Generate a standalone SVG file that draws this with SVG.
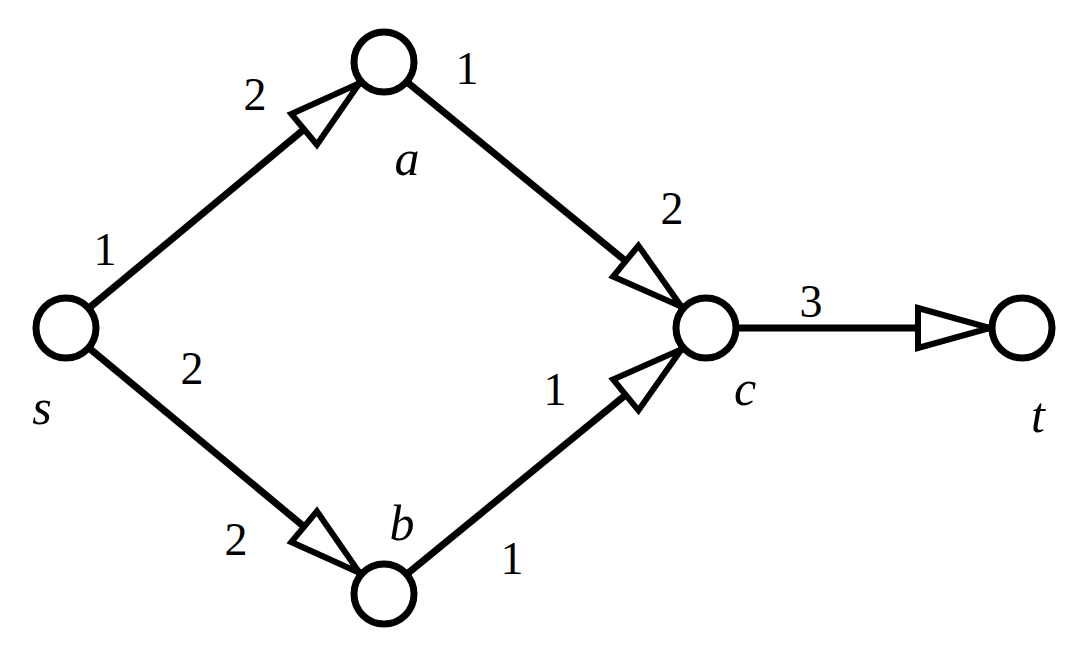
<svg xmlns="http://www.w3.org/2000/svg" width="1092" height="656" viewBox="0 0 1092 656">
<style>
.n{fill:#fff;stroke:#000;stroke-width:7}
.e{stroke:#000;stroke-width:7;fill:none}
.num{font-family:"Liberation Serif",serif;font-size:46px;text-anchor:middle}
.var{font-family:"Liberation Serif",serif;font-style:italic;font-size:50px;text-anchor:middle}
</style>
<defs>
<marker id="ar" markerUnits="userSpaceOnUse" markerWidth="100" markerHeight="60" refX="82" refY="30" orient="auto" overflow="visible">
<path d="M8,10 L80,30 L8,50 Z" fill="#fff" stroke="#000" stroke-width="6" stroke-linejoin="miter"/>
</marker>
</defs>
<rect width="1092" height="656" fill="#fff"/>
<g id="connectors">
<line class="e" x1="89" y1="308" x2="361" y2="82" marker-end="url(#ar)"/>
<line class="e" x1="89" y1="348" x2="361" y2="574" marker-end="url(#ar)"/>
<line class="e" x1="407" y1="82" x2="683" y2="308" marker-end="url(#ar)"/>
<line class="e" x1="407" y1="574" x2="683" y2="348" marker-end="url(#ar)"/>
<line class="e" x1="736" y1="328" x2="992" y2="328" marker-end="url(#ar)"/>
</g>
<g id="s"><circle class="n" cx="66" cy="328" r="30"/><text class="var" x="42" y="424">s</text></g>
<g id="a"><circle class="n" cx="384" cy="62" r="30"/><text class="var" x="407" y="175">a</text></g>
<g id="b"><circle class="n" cx="384" cy="594" r="30"/><text class="var" x="402" y="540">b</text></g>
<g id="c"><circle class="n" cx="706" cy="328" r="30"/><text class="var" x="745" y="405">c</text></g>
<g id="t"><circle class="n" cx="1022" cy="328" r="30"/><text class="var" x="1038" y="432">t</text></g>
<g id="labels">
<text class="num" x="255" y="110">2</text>
<text class="num" x="467" y="84">1</text>
<text class="num" x="105" y="265">1</text>
<text class="num" x="672" y="224">2</text>
<text class="num" x="811" y="317">3</text>
<text class="num" x="192" y="384">2</text>
<text class="num" x="555" y="405">1</text>
<text class="num" x="236" y="555">2</text>
<text class="num" x="512" y="574">1</text>
</g>
</svg>
